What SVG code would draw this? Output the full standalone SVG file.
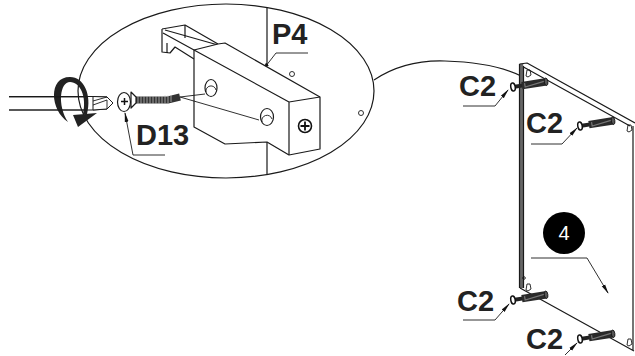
<svg xmlns="http://www.w3.org/2000/svg" width="635" height="356" viewBox="0 0 635 356">
<style>
.l{fill:none;stroke:#1a1a1a;stroke-width:1.2;stroke-linejoin:round}
.t{fill:none;stroke:#1a1a1a;stroke-width:.9}
.w{fill:#fff;stroke:#1a1a1a;stroke-width:1.2;stroke-linejoin:round}
.lab{font-family:"Liberation Sans",Arial,sans-serif;font-weight:700;font-size:29px;fill:#222}
</style>
<defs>
<marker id="a" markerWidth="10" markerHeight="5" refX="9" refY="2.5" orient="auto" markerUnits="userSpaceOnUse"><path d="M0 0.6L10 2.5L0 4.4z" fill="#111"/></marker>
<g id="dowel">
<path d="M0 0H12" stroke="#222" stroke-width="4"/>
<path d="M9 0H34" stroke="#2a2a2a" stroke-width="7.500"/>
<path d="M12-2V2L34-1" stroke="#777" stroke-width="1.200" fill="none"/>
<ellipse cx="33.500" cy="0" rx="1.800" ry="3.700" fill="#555" stroke="#111" stroke-width=".8"/>
<ellipse cx="0" cy="0" rx="2.200" ry="4" fill="#fff" stroke="#111" stroke-width="1.500"/>
</g>
</defs>
<rect width="635" height="356" fill="#fff"/>
<g id="connectors">
<path class="l" d="M374 80C392 68 416 60 445 61C480 62 503 67 521 76"/>
<g class="t">
<path d="M463 106H495L508 90" marker-end="url(#a)"/>
<path d="M531 144H562L577 128" marker-end="url(#a)"/>
<path d="M463 320H495L509 304" marker-end="url(#a)"/>
<path d="M565 355L577 343" marker-end="url(#a)"/>
<path d="M531 258H587L608 293" marker-end="url(#a)"/>
<path d="M165 155H133L125 113" marker-end="url(#a)"/>
<path d="M308 53H276L262 71" marker-end="url(#a)"/>
</g>
</g>
<g id="detail-bubble">
<ellipse class="l" cx="226" cy="91" rx="148" ry="87" fill="#fff"/>
<path class="l" d="M267 7V64M267 142V174"/>
<circle class="t" cx="292" cy="74" r="2.500"/><circle class="t" cx="361" cy="113" r="2.500"/>
</g>
<g id="bracket-P4">
<path class="l" d="M162 29L185 25L218 44M162 29V52L170 53L175 47L194 59M167 43V53M165 30L218 45" stroke-width="1.500"/>
<path class="l" d="M185 25V38M163 33L194 50" />
<path class="w" d="M194 50L218 44L225 43L320 97V149L289 155L267 142L225 144L194 127Z"/>
<path class="l" d="M194 50L289 102V155M289 102L320 97"/>
<ellipse class="l" cx="211" cy="88" rx="6" ry="8.500"/><path class="t" d="M206 92A5 5 0 0 1 216 90"/>
<ellipse class="l" cx="267" cy="117" rx="6.500" ry="8.500"/><path class="t" d="M262 122A5 5 0 0 1 272 119"/>
<circle cx="305" cy="126" r="6.500" fill="#fff" stroke="#111" stroke-width="1.600"/>
<path d="M305 121.500V130.500M300.500 126H309.500" stroke="#111" stroke-width="1.800"/>
</g>
<g id="screw-D13">
<path class="t" d="M180 97L205 94M180 97L259 120"/>
<path d="M135 100H168L180 97" stroke="#333" stroke-width="7" fill="none"/>
<path d="M138 96V104M141 96V104M144 96V104M147 96V104M150 96V104M153 96V104M156 96V104M159 96V104M162 96V104M165 95.500V103.500M168 95.500V103.500M171 95V102" stroke="#bbb" stroke-width=".8"/>
<path class="w" d="M131 92L136 97V103L131 108Z"/>
<ellipse class="w" cx="124" cy="102" rx="6.500" ry="9.500"/>
<path d="M124.500 98V105M121 101.500H128" stroke="#111" stroke-width="1.500"/>
</g>
<g id="screwdriver">
<path d="M68 122C50 110 48 77 70 77C84 77 92 95 87 114L83 114C87 96 80 82 70 82C60 82 57 105 68 122Z" fill="#222"/>
<path d="M9 96.500H93L107 97L113 103L107 109L93 110H9" fill="none" stroke="#1a1a1a" stroke-width="1"/>
<path d="M93 96.500L107 97L113 103L107 109L93 110Z" fill="#fff" stroke="#1a1a1a" stroke-width="1"/>
<path d="M9 97H84M9 110H84" stroke="#1a1a1a" stroke-width=".9"/>
<path d="M73 115L97 113L78 127Z" fill="#222"/>
<path class="t" d="M93 105L107 100L107 109M93 101L107 97"/>
</g>
<g id="panel">
<path d="M521.500 64V288" stroke="#666" stroke-width="3.500"/>
<path class="l" d="M519.500 64V288M523.500 66V288M519.500 64L527 63L635 123M523.500 67L630 126M633 126V351M520 288L634 351"/>
<path class="t" d="M526 76L527 70H530L531 75L528 77ZM627 131L628 125H631L632 130L629 132ZM526 290L527 284H530L531 289L528 291ZM627 345L628 339H631L632 344L629 346Z"/>
<circle class="t" cx="524" cy="278" r="1.300"/>
</g>
<g id="dowels">
<use href="#dowel" transform="translate(513 87) rotate(-9)"/>
<use href="#dowel" transform="translate(580 126) rotate(-9)"/>
<use href="#dowel" transform="translate(513 300) rotate(-9)"/>
<use href="#dowel" transform="translate(580 339) rotate(-9)"/>
</g>
<g id="labels">
<text class="lab" x="136" y="145" font-size="28">D13</text>
<text class="lab" x="272" y="44">P4</text>
<text class="lab" x="459" y="96">C2</text>
<text class="lab" x="526" y="133">C2</text>
<text class="lab" x="457" y="311">C2</text>
<text class="lab" x="526" y="349">C2</text>
</g>
<g id="step-4">
<circle cx="564" cy="233" r="21" fill="#000"/>
<text x="564" y="240" text-anchor="middle" font-family="Liberation Sans,Arial,sans-serif" font-size="20" fill="#fff">4</text>
</g>
</svg>
